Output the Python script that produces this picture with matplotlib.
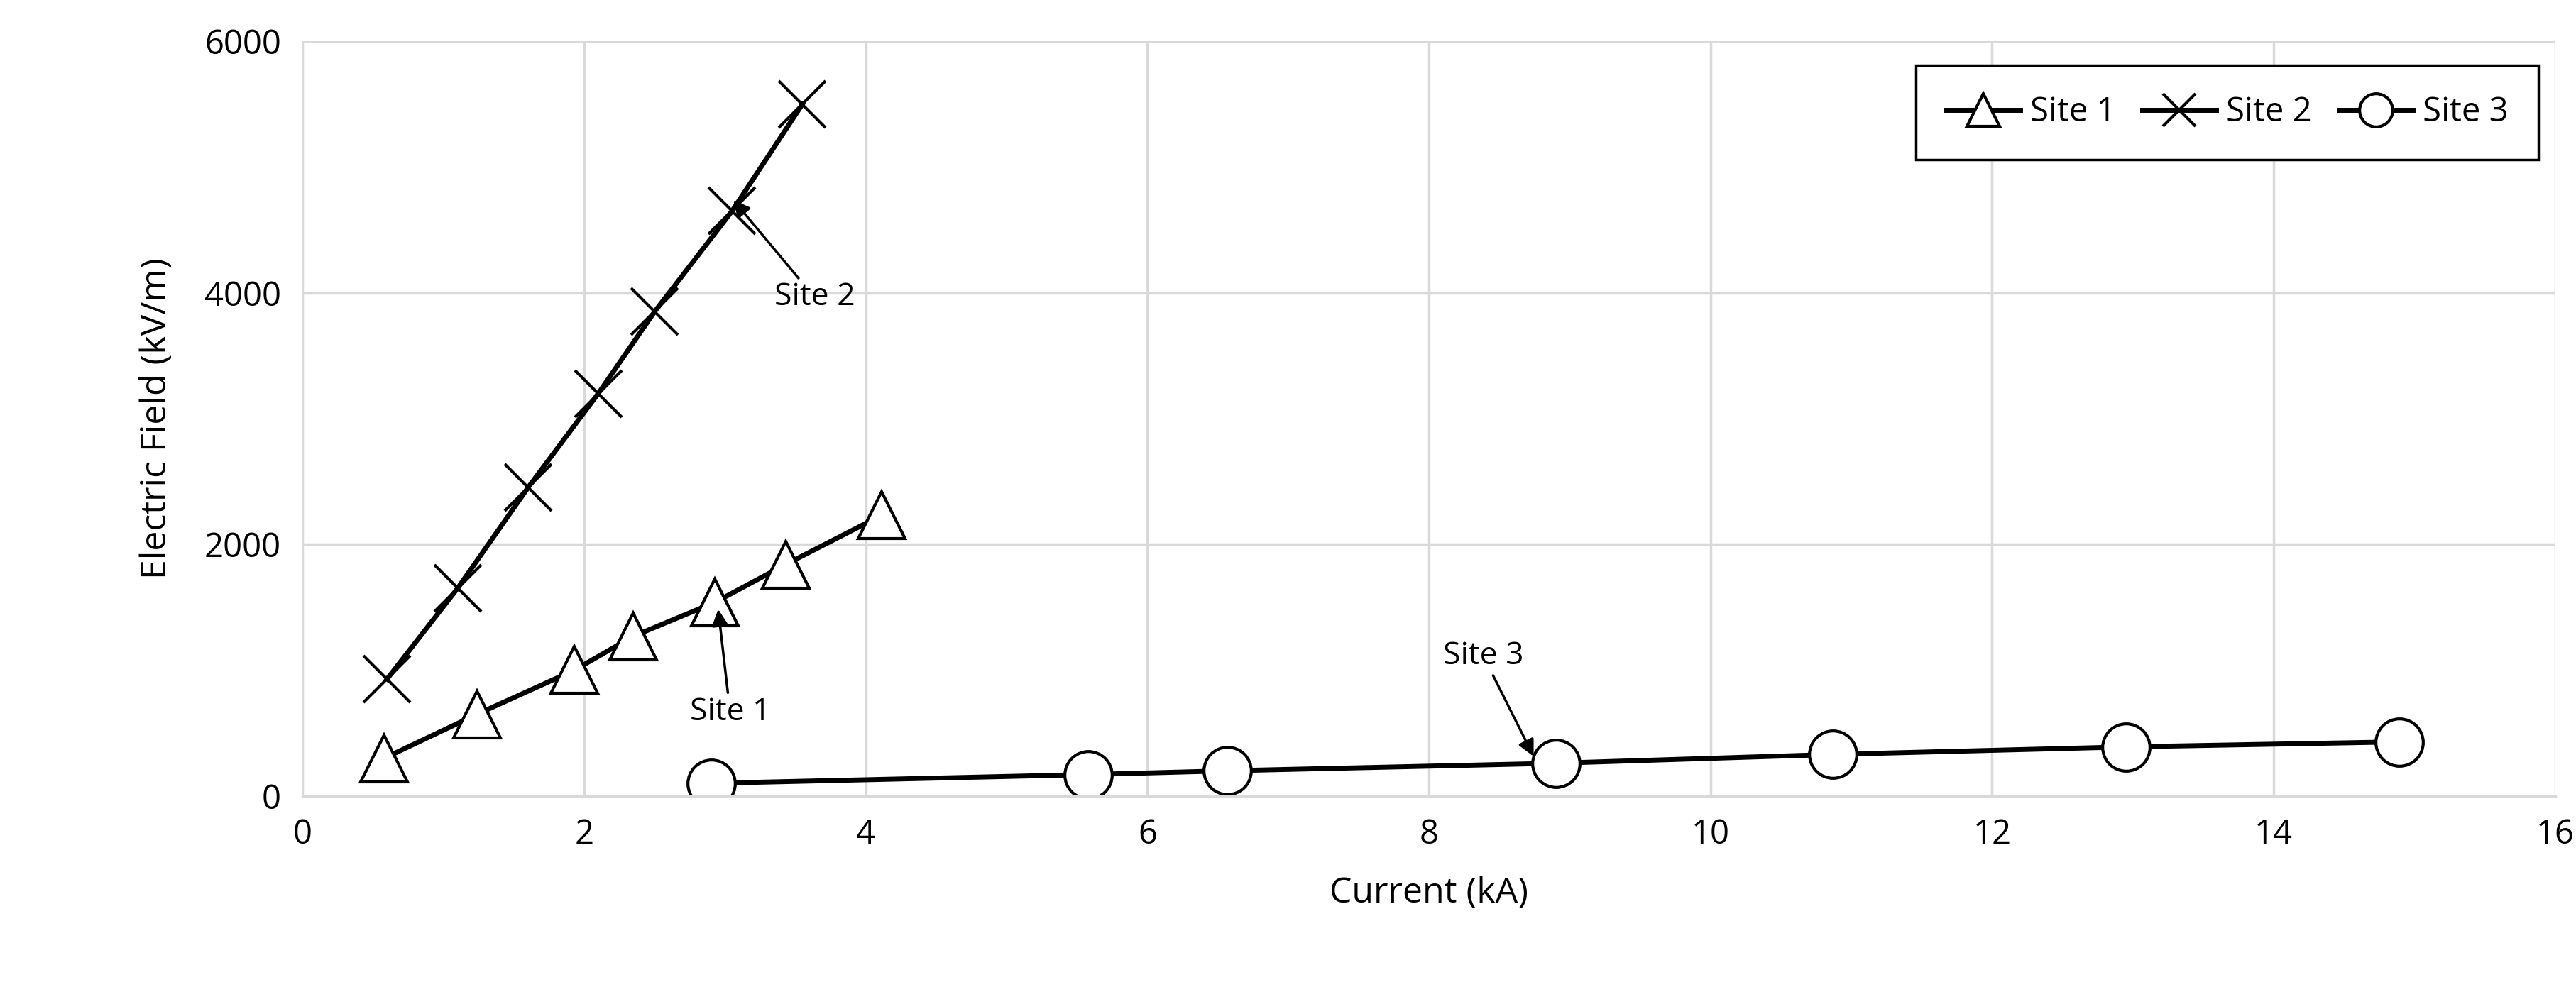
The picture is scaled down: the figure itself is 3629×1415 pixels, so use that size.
import matplotlib.pyplot as plt

s1_x = [0.58, 1.24, 1.93, 2.35, 2.93, 3.43, 4.11]
s1_y = [300, 650, 1000, 1270, 1540, 1840, 2230]
s2_x = [0.6, 1.1, 1.6, 2.1, 2.5, 3.05, 3.55]
s2_y = [930, 1650, 2450, 3200, 3850, 4650, 5500]
s3_x = [2.9, 5.58, 6.57, 8.9, 10.87, 12.95, 14.89]
s3_y = [100, 170, 200, 260, 330, 390, 430]

plt.rcParams['font.family'] = ['Open Sans', 'DejaVu Sans']
fig = plt.figure(figsize=(36.3, 14.15), dpi=100)
W, H = 1558, 608
ax = fig.add_axes([183/W, 1-482/H, (1545-183)/W, (482-25)/H])
ms = 48
kw = dict(color='black', lw=5, mec='black', mew=3, ms=ms)
ax.plot(s1_x, s1_y, marker='^', mfc='white', label='Site 1', **kw)
ax.plot(s2_x, s2_y, marker='x', label='Site 2', **kw)
ax.plot(s3_x, s3_y, marker='o', mfc='white', label='Site 3', **kw)
ax.set_xlim(0, 16)
ax.set_ylim(0, 6000)
ax.set_xticks(range(0, 17, 2))
ax.set_yticks(range(0, 6001, 2000))
ax.grid(True, color='#d9d9d9', lw=2.5)
ax.set_axisbelow(True)
for s in ax.spines.values():
    s.set_visible(False)
ax.spines['bottom'].set_visible(True)
ax.spines['bottom'].set_color('#d9d9d9')
ax.spines['bottom'].set_linewidth(2.5)
ax.tick_params(length=0, labelsize=34, pad=22)
ax.set_xlabel('Current (kA)', fontsize=36, labelpad=25)
ax.set_ylabel('Electric Field (kV/m)', fontsize=36, labelpad=30)
ap = dict(arrowstyle='-|>', color='black', lw=2.5, mutation_scale=35)
ax.annotate('Site 2', xy=(3.05, 4750), xytext=(3.35, 3900), fontsize=32, arrowprops=ap)
ax.annotate('Site 1', xy=(2.95, 1500), xytext=(2.75, 600), fontsize=32, arrowprops=ap)
ax.annotate('Site 3', xy=(8.75, 300), xytext=(8.1, 1050), fontsize=32, arrowprops=ap)
leg = ax.legend(loc='upper right', ncol=3, fontsize=34, frameon=True, fancybox=False,
                edgecolor='black', framealpha=1, bbox_to_anchor=(1.0, 0.99), borderpad=0.9,
                handlelength=2.2, columnspacing=0.8, handletextpad=0.3, markerscale=0.7)
leg.get_frame().set_linewidth(2.5)
fig.savefig('out.png', dpi=100)
